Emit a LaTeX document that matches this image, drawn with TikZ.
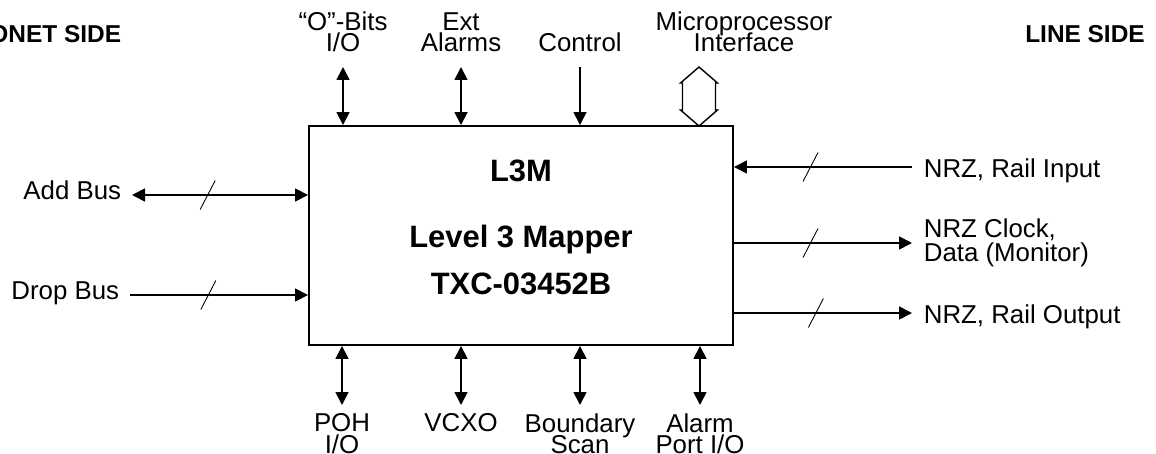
\documentclass[tikz,border=0pt]{standalone}
\usepackage{fontspec}
\setmainfont{Liberation Sans}
\usetikzlibrary{arrows.meta,positioning}

\tikzset{
  pics/busmark/.style={code={\draw[-, line width=0.5pt] (-0.15,-0.29) -- (0.15,0.29);}},
}

\begin{document}
\begin{tikzpicture}[>={Triangle[length=0.26cm,width=0.26cm]}, line width=1pt,
        lbl/.style={font={\fontsize{14.7}{12}\selectfont\lineskiplimit=-20pt}, inner sep=0pt, align=center},
        toplbl/.style={lbl, anchor=south, inner ysep=0.28cm},
        botlbl/.style={lbl, anchor=north, inner ysep=0.16cm},
        leftlbl/.style={lbl, anchor=east, inner xsep=0.2cm, text height=10pt, text depth=4.4pt},
        rightlbl/.style={lbl, anchor=west, inner xsep=0.22cm, align=left},
        oneline/.style={text height=11.4pt, text depth=0pt},
        heading/.style={font=\fontsize{13.9}{16}\selectfont\bfseries, inner sep=0pt},
        chiptext/.style={font=\fontsize{17.6}{20}\selectfont\bfseries, inner sep=0pt, anchor=base}]
        \useasboundingbox (0,0) rectangle (23.12,9.06);

        \node[draw, line width=1.1pt, minimum width=8.48cm, minimum height=4.38cm, inner sep=0pt] (l3m) at (10.42,4.35) {};
        \node[chiptext] (chipname) at (10.42,5.42) {L3M};
        \node[chiptext] (chiptitle) at (10.42,4.10) {Level 3 Mapper};
        \node[chiptext] (partno) at (10.42,3.16) {TXC-03452B};

        \node[heading, anchor=east] (sonet) at (2.44,8.38) {SONET SIDE};
        \node[heading] (lineside) at (21.70,8.38) {LINE SIDE};

        \node[toplbl] (obits) at (6.86,7.72) {“O”-Bits\\I/O};
        \node[toplbl] (extalm) at (9.22,7.72) {Ext\\Alarms};
        \node[toplbl] (ctrl) at (11.60,7.72) {Control};
        \node[toplbl] (mpuif) at (14.88,7.72) {Microprocessor\\Interface};
        \coordinate (mpu) at (13.98,7.72);
        \draw[<->] (obits) -- (obits |- l3m.north);
        \draw[<->] (extalm) -- (extalm |- l3m.north);
        \draw[->] (ctrl) -- (ctrl |- l3m.north);
        \draw[line width=0.8pt] (mpu) -- ++(0.37,-0.32) -- ++(-0.04,0) -- ++(0,-0.54) -- ++(0.04,0)
            -- ++(-0.37,-0.32) -- ++(-0.37,0.32) -- ++(0.04,0) -- ++(0,0.54) -- ++(-0.04,0) -- cycle;

        \node[botlbl] (poh) at (6.84,0.96) {POH\\I/O};
        \node[botlbl] (vcxo) at (9.22,0.96) {VCXO};
        \node[botlbl] (bscan) at (11.60,0.96) {Boundary\\Scan};
        \node[botlbl] (alarm) at (14.00,0.96) {Alarm\\Port I/O};
        \draw[<->] (poh) -- (poh |- l3m.south);
        \draw[<->] (vcxo) -- (vcxo |- l3m.south);
        \draw[<->] (bscan) -- (bscan |- l3m.south);
        \draw[<->] (alarm) -- (alarm |- l3m.south);

        \node[leftlbl] (addbus) at (2.64,5.16) {Add Bus};
        \node[leftlbl] (dropbus) at (2.60,3.16) {Drop Bus};
        \draw[<->] (addbus) -- pic[pos=0.43]{busmark} (addbus -| l3m.west);
        \draw[->] (dropbus) -- pic[pos=0.44]{busmark} (dropbus -| l3m.west);

        \node[rightlbl, oneline] (railin) at (18.24,5.72) {NRZ, Rail Input};
        \node[rightlbl, font={\fontsize{14.7}{14}\selectfont\lineskiplimit=-20pt}] (nrzclk) at (18.24,4.20) {NRZ Clock,\\Data (Monitor)};
        \node[rightlbl, oneline] (railout) at (18.24,2.80) {NRZ, Rail Output};
        \draw[<-] (railin -| l3m.east) -- pic[pos=0.43]{busmark} (railin);
        \draw[->] (nrzclk -| l3m.east) -- pic[pos=0.43]{busmark} (nrzclk);
        \draw[->] (railout -| l3m.east) -- pic[pos=0.46]{busmark} (railout);
    \end{tikzpicture}
\end{document}
